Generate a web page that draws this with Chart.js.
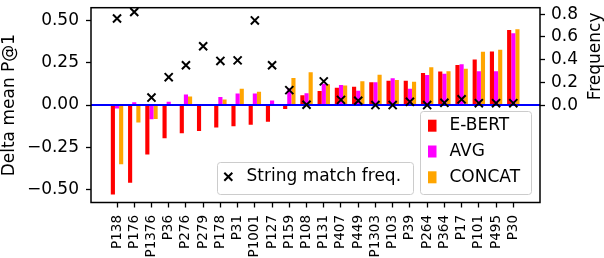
<!DOCTYPE html>
<html><head><meta charset="utf-8">
<script src="https://cdn.jsdelivr.net/npm/chart.js@4"></script>
<style>html,body{margin:0;padding:0;background:#fff;overflow:hidden}#wrap{width:604px;height:258px;position:relative}</style>
</head><body><div id="wrap"><canvas id="c" width="604" height="258"></canvas></div>
<script>
const categories = ['P138','P176','P1376','P36','P276','P279','P178','P31','P1001','P127','P159','P108','P131','P407','P449','P1303','P103','P39','P264','P364','P17','P101','P495','P30'];
const ebert  = [-0.529,-0.460,-0.292,-0.196,-0.167,-0.154,-0.133,-0.125,-0.117,-0.099,-0.023,0.058,0.083,0.102,0.108,0.135,0.143,0.143,0.189,0.198,0.237,0.269,0.316,0.443];
const avg    = [-0.021,0.016,-0.084,0.020,0.062,0.003,0.048,0.068,0.068,0.027,0.097,0.069,0.125,0.118,0.085,0.135,0.158,0.096,0.177,0.185,0.241,0.200,0.200,0.424];
const concat = [-0.350,-0.104,-0.082,0.000,0.050,0.000,0.033,0.096,0.078,0.000,0.160,0.194,0.123,0.115,0.141,0.179,0.148,0.137,0.223,0.200,0.214,0.314,0.327,0.447];
const stringFreq = [0.763,0.820,0.066,0.246,0.351,0.518,0.389,0.394,0.746,0.351,0.132,0.003,0.209,0.046,0.038,0.000,0.000,0.029,0.000,0.020,0.051,0.017,0.017,0.017];
const leftTicks = [-0.5,-0.25,0,0.25,0.5];
const rightTicks = [0,0.2,0.4,0.6,0.8];
const seriesNames = ['E-BERT','AVG','CONCAT'];
const markerName = 'String match freq.';
const leftTitle = 'Delta mean P@1';
const rightTitle = 'Frequency';

const FONT = "17px 'DejaVu Sans'";
Chart.defaults.font.family = "'DejaVu Sans'";
Chart.defaults.font.size = 17;
Chart.defaults.color = '#000';

const toXY = arr => arr.map((v, i) => ({x: i, y: v}));
const fmtL = v => (v < 0 ? '\u2212' : '') + Math.abs(v).toFixed(2);
const noPad = s => { s.paddingTop = 0; s.paddingBottom = 0; s.paddingLeft = 0; s.paddingRight = 0; };

function roundRect(ctx, x, y, w, h, r) {
  ctx.beginPath();
  ctx.moveTo(x + r, y);
  ctx.lineTo(x + w - r, y); ctx.arcTo(x + w, y, x + w, y + r, r);
  ctx.lineTo(x + w, y + h - r); ctx.arcTo(x + w, y + h, x + w - r, y + h, r);
  ctx.lineTo(x + r, y + h); ctx.arcTo(x, y + h, x, y + h - r, r);
  ctx.lineTo(x, y + r); ctx.arcTo(x, y, x + r, y, r);
  ctx.closePath();
}
function drawX(ctx, cx, cy, d) {
  ctx.beginPath();
  ctx.moveTo(cx - d, cy - d); ctx.lineTo(cx + d, cy + d);
  ctx.moveTo(cx - d, cy + d); ctx.lineTo(cx + d, cy - d);
  ctx.stroke();
}

const overlay = {
  id: 'overlay',
  beforeDatasetDraw(chart, args) {
    if (args.meta.type !== 'scatter') return;
    const {ctx, chartArea: a} = chart;
    const y0 = chart.scales.y.getPixelForValue(0);
    ctx.save();
    ctx.strokeStyle = '#0000ff'; ctx.lineWidth = 2;
    ctx.beginPath(); ctx.moveTo(a.left, y0); ctx.lineTo(a.right, y0); ctx.stroke();
    ctx.restore();
  },
  afterDraw(chart) {
    const {ctx, chartArea: a} = chart;
    const ds = chart.data.datasets;
    ctx.save();
    ctx.strokeStyle = '#000'; ctx.lineWidth = 1.5;
    ctx.strokeRect(a.left, a.top, a.right - a.left, a.bottom - a.top);
    ctx.font = FONT; ctx.fillStyle = '#000';
    ctx.textAlign = 'center'; ctx.textBaseline = 'alphabetic';
    ctx.save();
    ctx.translate(14, (a.top + a.bottom) / 2);
    ctx.rotate(-Math.PI / 2);
    ctx.fillText(leftTitle, 0, 0);
    ctx.restore();
    const y2 = chart.scales.y2;
    ctx.save();
    ctx.translate(599.5, (a.top + y2.getPixelForValue(0)) / 2);
    ctx.rotate(-Math.PI / 2);
    ctx.fillText(rightTitle, 0, 0);
    ctx.restore();
    ctx.lineWidth = 1;
    ctx.fillStyle = 'rgba(255,255,255,0.8)'; ctx.strokeStyle = '#cccccc';
    roundRect(ctx, 420.5, 111.5, 111, 83, 3); ctx.fill(); ctx.stroke();
    const ly = [125.7, 151.5, 177.3];
    ctx.textAlign = 'left'; ctx.textBaseline = 'middle';
    for (let i = 0; i < 3; i++) {
      ctx.fillStyle = ds[i].backgroundColor;
      ctx.fillRect(428, ly[i] - 6, 8.5, 12);
      ctx.fillStyle = '#000';
      ctx.fillText(ds[i].label, 449.5, ly[i]);
    }
    ctx.fillStyle = 'rgba(255,255,255,0.8)'; ctx.strokeStyle = '#cccccc';
    roundRect(ctx, 217.5, 162.5, 196, 32, 3); ctx.fill(); ctx.stroke();
    ctx.strokeStyle = '#000'; ctx.lineWidth = 2;
    drawX(ctx, 228.3, 176.7, 4);
    ctx.fillStyle = '#000';
    ctx.fillText(ds[3].label, 246.5, 176.7);
    ctx.restore();
  }
};

new Chart(document.getElementById('c'), {
  type: 'bar',
  data: {
    datasets: [
      {label: seriesNames[0], data: toXY(ebert), backgroundColor: '#ff0000', yAxisID: 'y', order: 1},
      {label: seriesNames[1], data: toXY(avg), backgroundColor: '#ff00ff', yAxisID: 'y', order: 1},
      {label: seriesNames[2], data: toXY(concat), backgroundColor: '#ffa500', yAxisID: 'y', order: 1},
      {type: 'scatter', label: markerName, data: toXY(stringFreq), yAxisID: 'y2', order: 0,
       pointStyle: 'crossRot', pointRadius: 5.7, pointBorderColor: '#000', borderColor: '#000',
       pointBorderWidth: 2, borderWidth: 2, clip: false}
    ]
  },
  options: {
    responsive: false, animation: false, devicePixelRatio: 1,
    layout: {padding: {top: 3, left: 0, right: 0, bottom: 0}},
    plugins: {legend: {display: false}, tooltip: {enabled: false}},
    datasets: {bar: {categoryPercentage: 0.72, barPercentage: 1.0}},
    scales: {
      x: {
        type: 'linear', min: -1.51, max: 24.55, offset: false,
        grid: {offset: false, drawOnChartArea: false, drawTicks: true, tickLength: 5, tickColor: '#000', tickWidth: 1.3},
        border: {display: false},
        afterBuildTicks: ax => { ax.ticks = categories.map((_, i) => ({value: i})); },
        ticks: {autoSkip: false, maxRotation: 90, minRotation: 90, padding: 7.5, font: {size: 13.5}, callback: v => categories[v]},
        afterFit: s => { s.height = 55.5; noPad(s); }
      },
      y: {
        position: 'left', min: -0.576, max: 0.575,
        grid: {drawOnChartArea: false, drawTicks: true, tickLength: 5, tickColor: '#000', tickWidth: 1.3},
        border: {display: false},
        afterBuildTicks: ax => { ax.ticks = leftTicks.map(v => ({value: v})); },
        ticks: {padding: 7, callback: v => fmtL(v)},
        afterFit: s => { s.width = 91; noPad(s); }
      },
      y2: {
        position: 'right', min: -0.858, max: 0.858,
        grid: {drawOnChartArea: false, drawTicks: true, tickLength: 5, tickColor: '#000', tickWidth: 1.3},
        border: {display: false},
        afterBuildTicks: ax => { ax.ticks = rightTicks.map(v => ({value: v})); },
        ticks: {padding: 6, callback: v => v.toFixed(1)},
        afterFit: s => { s.width = 64; noPad(s); }
      }
    }
  },
  plugins: [overlay]
});
</script></body></html>
